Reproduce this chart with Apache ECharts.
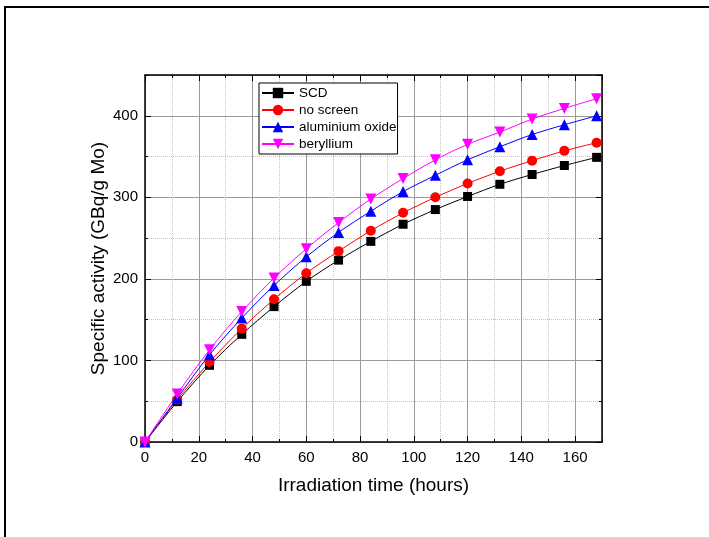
<!DOCTYPE html>
<html>
<head>
<meta charset="utf-8">
<script src="https://cdn.jsdelivr.net/npm/echarts@6/dist/echarts.min.js"></script>
<style>
  html, body { margin: 0; padding: 0; background: #fff; }
  #chart { width: 709px; height: 537px; }
</style>
</head>
<body>
<div id="chart"></div>
<script>
// irradiation time (hours)
var hours = [0, 12, 24, 36, 48, 60, 72, 84, 96, 108, 120, 132, 144, 156, 168];
// specific activity (GBq/g Mo)
var scd       = [0, 49.5, 94, 132, 166, 197, 223, 246, 267, 285, 301, 316, 328, 339, 349];
var noScreen  = [0, 52, 98, 139, 175, 207, 234, 259, 281, 300, 317, 332, 345, 357, 367];
var aluOxide  = [0, 54, 107, 152, 192, 227, 257, 283, 307, 327, 346, 362, 377, 389, 400];
var beryllium = [0, 59, 113, 160, 201, 237, 269, 298, 323, 346, 365, 380, 396, 409, 421];

var seriesNames = ['SCD', 'no screen', 'aluminium oxide', 'beryllium'];

var xMin = 0, xMax = 170, xMajor = 20, xMinor = 10;
var yMin = 0, yMax = 450, yMajor = 100, yMinor = 50;

var font = 'Liberation Sans, Arial, sans-serif';

function pairs(xs, ys) {
  return xs.map(function (x, i) { return [x, ys[i]]; });
}

// minor axis: short ticks + dotted grid ; major axis: long ticks, labels, solid grid
function xAx(pos, major, withGrid, withLabel) {
  return {
    type: 'value', position: pos, min: xMin, max: xMax,
    interval: major ? xMajor : xMinor,
    axisLine: { show: major, onZero: false, lineStyle: { color: '#000', width: 1.5 } },
    axisTick: { show: true, inside: true, length: major ? 6 : 3, lineStyle: { color: '#000', width: 1 } },
    axisLabel: { show: withLabel, showMaxLabel: false, fontSize: 15, color: '#000', margin: 8, fontFamily: font },
    splitLine: {
      show: withGrid,
      lineStyle: major ? { color: '#9a9a9a', width: 1 } : { color: '#c4c4c4', width: 1, type: 'dotted' }
    }
  };
}
function yAx(pos, major, withGrid, withLabel) {
  return {
    type: 'value', position: pos, min: yMin, max: yMax,
    interval: major ? yMajor : yMinor,
    axisLine: { show: major, onZero: false, lineStyle: { color: '#000', width: 1.5 } },
    axisTick: { show: true, inside: true, length: major ? 6 : 3, lineStyle: { color: '#000', width: 1 } },
    axisLabel: { show: withLabel, showMaxLabel: false, fontSize: 15, color: '#000', margin: 7, fontFamily: font },
    splitLine: {
      show: withGrid,
      lineStyle: major ? { color: '#9a9a9a', width: 1 } : { color: '#c4c4c4', width: 1, type: 'dotted' }
    }
  };
}

var xMainBottom = xAx('bottom', true, true, true);
xMainBottom.name = 'Irradiation time (hours)';
xMainBottom.nameLocation = 'middle';
xMainBottom.nameGap = 34;
xMainBottom.nameMoveOverlap = false;
xMainBottom.nameTextStyle = { fontSize: 19, color: '#000', fontFamily: font };

var yMainLeft = yAx('left', true, true, true);
yMainLeft.name = 'Specific activity (GBq/g Mo)';
yMainLeft.nameLocation = 'middle';
yMainLeft.nameGap = 37;
yMainLeft.nameMoveOverlap = false;
yMainLeft.nameTextStyle = { fontSize: 19, color: '#000', fontFamily: font };

var myChart = echarts.init(document.getElementById('chart'), null, { renderer: 'canvas' });

myChart.setOption({
  animation: false,
  backgroundColor: '#fff',
  textStyle: { fontFamily: font },
  graphic: [{
    type: 'rect',
    shape: { x: 5, y: 7, width: 800, height: 700 },
    style: { fill: 'none', stroke: '#000', lineWidth: 2 },
    silent: true
  }],
  grid: { left: 145, right: 107, top: 75, bottom: 95, show: false },
  legend: {
    data: seriesNames,
    orient: 'vertical',
    left: 259, top: 83,
    backgroundColor: '#fff',
    borderColor: '#000', borderWidth: 1, borderRadius: 0,
    padding: [3, 1, 3, 2],
    itemWidth: 32, itemHeight: 13, itemGap: 3,
    textStyle: { fontSize: 13.5, color: '#000', fontFamily: font }
  },
  xAxis: [
    xAx('bottom', false, true, false),
    xMainBottom,
    xAx('top', false, false, false),
    xAx('top', true, false, false)
  ],
  yAxis: [
    yAx('left', false, true, false),
    yMainLeft,
    yAx('right', false, false, false),
    yAx('right', true, false, false)
  ],
  series: [
    { name: 'SCD', type: 'line', xAxisIndex: 1, yAxisIndex: 1, data: pairs(hours, scd),
      symbol: 'rect', symbolSize: 9, smooth: 0.3, color: '#000000', lineStyle: { width: 1 } },
    { name: 'no screen', type: 'line', xAxisIndex: 1, yAxisIndex: 1, data: pairs(hours, noScreen),
      symbol: 'circle', symbolSize: 10, smooth: 0.3, color: '#ff0000', lineStyle: { width: 1 } },
    { name: 'aluminium oxide', type: 'line', xAxisIndex: 1, yAxisIndex: 1, data: pairs(hours, aluOxide),
      symbol: 'triangle', symbolSize: 11, smooth: 0.3, color: '#0000ff', lineStyle: { width: 1 } },
    { name: 'beryllium', type: 'line', xAxisIndex: 1, yAxisIndex: 1, data: pairs(hours, beryllium),
      symbol: 'triangle', symbolRotate: 180, symbolSize: 11, smooth: 0.3, color: '#ff00ff', lineStyle: { width: 1 } }
  ]
});
</script>
</body>
</html>
